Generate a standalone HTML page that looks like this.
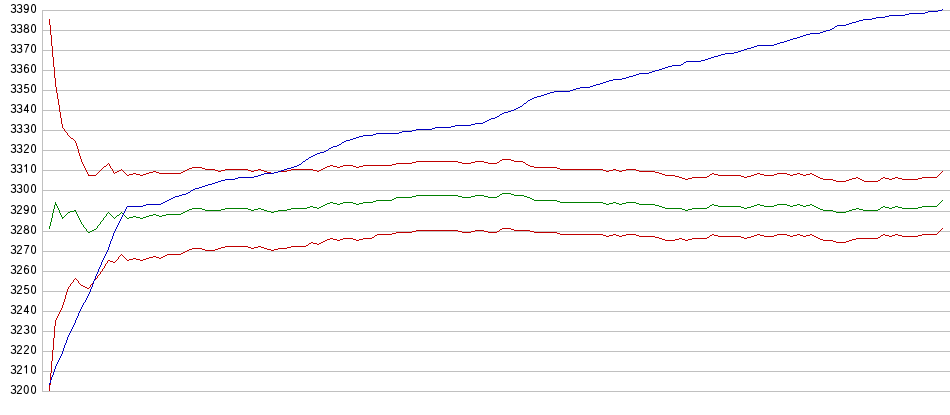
<!DOCTYPE html><html><head><meta charset="utf-8"><style>html,body{margin:0;padding:0;background:#fff;width:950px;height:415px;overflow:hidden}svg{display:block}</style></head><body><svg width="950" height="415" viewBox="0 0 950 415"><path d="M42 10h908v1h-908zM42 30h908v1h-908zM42 50h908v1h-908zM42 70h908v1h-908zM42 90h908v1h-908zM42 110h908v1h-908zM42 130h908v1h-908zM42 150h908v1h-908zM42 170h908v1h-908zM42 190h908v1h-908zM42 211h908v1h-908zM42 231h908v1h-908zM42 251h908v1h-908zM42 271h908v1h-908zM42 291h908v1h-908zM42 311h908v1h-908zM42 331h908v1h-908zM42 351h908v1h-908zM42 371h908v1h-908zM42 391h908v1h-908zM42 10h1v382h-1z" fill="#c0c0c0" shape-rendering="crispEdges"/><g fill="none" stroke="#000" stroke-width="1.05" stroke-linecap="butt" stroke-linejoin="round"><path transform="translate(11.1 4.5) scale(1 0.976)" d="M0.2 1.3C0.5 0.5 1.2 0 2.2 0C3.5 0 4.4 0.8 4.4 2.05C4.4 3.3 3.5 4.2 2.2 4.2L1.7 4.2M2.2 4.2C3.7 4.2 4.6 5.1 4.6 6.2C4.6 7.4 3.6 8.2 2.2 8.2C1.0 8.2 0.2 7.5 0 6.6"/><path transform="translate(17.2 4.5) scale(1 0.976)" d="M0.2 1.3C0.5 0.5 1.2 0 2.2 0C3.5 0 4.4 0.8 4.4 2.05C4.4 3.3 3.5 4.2 2.2 4.2L1.7 4.2M2.2 4.2C3.7 4.2 4.6 5.1 4.6 6.2C4.6 7.4 3.6 8.2 2.2 8.2C1.0 8.2 0.2 7.5 0 6.6"/><path transform="translate(24.2 4.5) scale(1 0.976)" d="M4.2 2.7C4.2 4.2 3.4 5.1 2.1 5.1C0.8 5.1 0 4.1 0 2.6C0 1.1 0.8 0 2.1 0C3.5 0 4.2 1.3 4.2 3.6C4.2 6.6 3.3 8.2 2 8.2C1.1 8.2 0.4 7.6 0.2 6.7"/><path transform="translate(31.5 4.5) scale(1 0.976)" d="M2.05 0C3.4 0 4.1 1.7 4.1 4.1C4.1 6.5 3.4 8.2 2.05 8.2C0.7 8.2 0 6.5 0 4.1C0 1.7 0.7 0 2.05 0Z"/><path transform="translate(11.1 24.5) scale(1 0.976)" d="M0.2 1.3C0.5 0.5 1.2 0 2.2 0C3.5 0 4.4 0.8 4.4 2.05C4.4 3.3 3.5 4.2 2.2 4.2L1.7 4.2M2.2 4.2C3.7 4.2 4.6 5.1 4.6 6.2C4.6 7.4 3.6 8.2 2.2 8.2C1.0 8.2 0.2 7.5 0 6.6"/><path transform="translate(17.2 24.5) scale(1 0.976)" d="M0.2 1.3C0.5 0.5 1.2 0 2.2 0C3.5 0 4.4 0.8 4.4 2.05C4.4 3.3 3.5 4.2 2.2 4.2L1.7 4.2M2.2 4.2C3.7 4.2 4.6 5.1 4.6 6.2C4.6 7.4 3.6 8.2 2.2 8.2C1.0 8.2 0.2 7.5 0 6.6"/><path transform="translate(24.2 24.5) scale(1 0.976)" d="M2.2 4.1C1.1 4.1 0.3 3.3 0.3 2.05C0.3 0.8 1.1 0 2.2 0C3.3 0 4.1 0.8 4.1 2.05C4.1 3.3 3.3 4.1 2.2 4.1C3.6 4.1 4.5 5 4.5 6.15C4.5 7.4 3.6 8.2 2.2 8.2C0.8 8.2 -0.1 7.4 -0.1 6.15C-0.1 5 0.8 4.1 2.2 4.1Z"/><path transform="translate(31.5 24.5) scale(1 0.976)" d="M2.05 0C3.4 0 4.1 1.7 4.1 4.1C4.1 6.5 3.4 8.2 2.05 8.2C0.7 8.2 0 6.5 0 4.1C0 1.7 0.7 0 2.05 0Z"/><path transform="translate(11.1 44.5) scale(1 0.976)" d="M0.2 1.3C0.5 0.5 1.2 0 2.2 0C3.5 0 4.4 0.8 4.4 2.05C4.4 3.3 3.5 4.2 2.2 4.2L1.7 4.2M2.2 4.2C3.7 4.2 4.6 5.1 4.6 6.2C4.6 7.4 3.6 8.2 2.2 8.2C1.0 8.2 0.2 7.5 0 6.6"/><path transform="translate(17.2 44.5) scale(1 0.976)" d="M0.2 1.3C0.5 0.5 1.2 0 2.2 0C3.5 0 4.4 0.8 4.4 2.05C4.4 3.3 3.5 4.2 2.2 4.2L1.7 4.2M2.2 4.2C3.7 4.2 4.6 5.1 4.6 6.2C4.6 7.4 3.6 8.2 2.2 8.2C1.0 8.2 0.2 7.5 0 6.6"/><path transform="translate(24.2 44.5) scale(1 0.976)" d="M0 0H4.6C3.4 1.8 1.9 5 1.4 8.4"/><path transform="translate(31.5 44.5) scale(1 0.976)" d="M2.05 0C3.4 0 4.1 1.7 4.1 4.1C4.1 6.5 3.4 8.2 2.05 8.2C0.7 8.2 0 6.5 0 4.1C0 1.7 0.7 0 2.05 0Z"/><path transform="translate(11.1 64.5) scale(1 0.976)" d="M0.2 1.3C0.5 0.5 1.2 0 2.2 0C3.5 0 4.4 0.8 4.4 2.05C4.4 3.3 3.5 4.2 2.2 4.2L1.7 4.2M2.2 4.2C3.7 4.2 4.6 5.1 4.6 6.2C4.6 7.4 3.6 8.2 2.2 8.2C1.0 8.2 0.2 7.5 0 6.6"/><path transform="translate(17.2 64.5) scale(1 0.976)" d="M0.2 1.3C0.5 0.5 1.2 0 2.2 0C3.5 0 4.4 0.8 4.4 2.05C4.4 3.3 3.5 4.2 2.2 4.2L1.7 4.2M2.2 4.2C3.7 4.2 4.6 5.1 4.6 6.2C4.6 7.4 3.6 8.2 2.2 8.2C1.0 8.2 0.2 7.5 0 6.6"/><path transform="translate(24.2 64.5) scale(1 0.976)" d="M0.2 5.5C0.3 4 1.1 3.1 2.3 3.1C3.6 3.1 4.4 4.1 4.4 5.6C4.4 7.1 3.6 8.2 2.3 8.2C0.9 8.2 0.2 7 0.2 4.6C0.2 1.6 1.1 0 2.4 0C3.3 0 4 0.6 4.2 1.5"/><path transform="translate(31.5 64.5) scale(1 0.976)" d="M2.05 0C3.4 0 4.1 1.7 4.1 4.1C4.1 6.5 3.4 8.2 2.05 8.2C0.7 8.2 0 6.5 0 4.1C0 1.7 0.7 0 2.05 0Z"/><path transform="translate(11.1 84.5) scale(1 0.976)" d="M0.2 1.3C0.5 0.5 1.2 0 2.2 0C3.5 0 4.4 0.8 4.4 2.05C4.4 3.3 3.5 4.2 2.2 4.2L1.7 4.2M2.2 4.2C3.7 4.2 4.6 5.1 4.6 6.2C4.6 7.4 3.6 8.2 2.2 8.2C1.0 8.2 0.2 7.5 0 6.6"/><path transform="translate(17.2 84.5) scale(1 0.976)" d="M0.2 1.3C0.5 0.5 1.2 0 2.2 0C3.5 0 4.4 0.8 4.4 2.05C4.4 3.3 3.5 4.2 2.2 4.2L1.7 4.2M2.2 4.2C3.7 4.2 4.6 5.1 4.6 6.2C4.6 7.4 3.6 8.2 2.2 8.2C1.0 8.2 0.2 7.5 0 6.6"/><path transform="translate(24.2 84.5) scale(1 0.976)" d="M4.3 0L0.9 0L0.4 4.2C0.9 3.5 1.5 3.1 2.3 3.1C3.7 3.1 4.5 4.2 4.5 5.6C4.5 7.1 3.6 8.2 2.2 8.2C1.1 8.2 0.3 7.6 0.1 6.7"/><path transform="translate(31.5 84.5) scale(1 0.976)" d="M2.05 0C3.4 0 4.1 1.7 4.1 4.1C4.1 6.5 3.4 8.2 2.05 8.2C0.7 8.2 0 6.5 0 4.1C0 1.7 0.7 0 2.05 0Z"/><path transform="translate(11.1 104.5) scale(1 0.976)" d="M0.2 1.3C0.5 0.5 1.2 0 2.2 0C3.5 0 4.4 0.8 4.4 2.05C4.4 3.3 3.5 4.2 2.2 4.2L1.7 4.2M2.2 4.2C3.7 4.2 4.6 5.1 4.6 6.2C4.6 7.4 3.6 8.2 2.2 8.2C1.0 8.2 0.2 7.5 0 6.6"/><path transform="translate(17.2 104.5) scale(1 0.976)" d="M0.2 1.3C0.5 0.5 1.2 0 2.2 0C3.5 0 4.4 0.8 4.4 2.05C4.4 3.3 3.5 4.2 2.2 4.2L1.7 4.2M2.2 4.2C3.7 4.2 4.6 5.1 4.6 6.2C4.6 7.4 3.6 8.2 2.2 8.2C1.0 8.2 0.2 7.5 0 6.6"/><path transform="translate(24.2 104.5) scale(1 0.976)" d="M3.3 8.4L3.3 0L0 6.1L4.7 6.1"/><path transform="translate(31.5 104.5) scale(1 0.976)" d="M2.05 0C3.4 0 4.1 1.7 4.1 4.1C4.1 6.5 3.4 8.2 2.05 8.2C0.7 8.2 0 6.5 0 4.1C0 1.7 0.7 0 2.05 0Z"/><path transform="translate(11.1 124.5) scale(1 0.976)" d="M0.2 1.3C0.5 0.5 1.2 0 2.2 0C3.5 0 4.4 0.8 4.4 2.05C4.4 3.3 3.5 4.2 2.2 4.2L1.7 4.2M2.2 4.2C3.7 4.2 4.6 5.1 4.6 6.2C4.6 7.4 3.6 8.2 2.2 8.2C1.0 8.2 0.2 7.5 0 6.6"/><path transform="translate(17.2 124.5) scale(1 0.976)" d="M0.2 1.3C0.5 0.5 1.2 0 2.2 0C3.5 0 4.4 0.8 4.4 2.05C4.4 3.3 3.5 4.2 2.2 4.2L1.7 4.2M2.2 4.2C3.7 4.2 4.6 5.1 4.6 6.2C4.6 7.4 3.6 8.2 2.2 8.2C1.0 8.2 0.2 7.5 0 6.6"/><path transform="translate(24.2 124.5) scale(1 0.976)" d="M0.2 1.3C0.5 0.5 1.2 0 2.2 0C3.5 0 4.4 0.8 4.4 2.05C4.4 3.3 3.5 4.2 2.2 4.2L1.7 4.2M2.2 4.2C3.7 4.2 4.6 5.1 4.6 6.2C4.6 7.4 3.6 8.2 2.2 8.2C1.0 8.2 0.2 7.5 0 6.6"/><path transform="translate(31.5 124.5) scale(1 0.976)" d="M2.05 0C3.4 0 4.1 1.7 4.1 4.1C4.1 6.5 3.4 8.2 2.05 8.2C0.7 8.2 0 6.5 0 4.1C0 1.7 0.7 0 2.05 0Z"/><path transform="translate(11.1 144.5) scale(1 0.976)" d="M0.2 1.3C0.5 0.5 1.2 0 2.2 0C3.5 0 4.4 0.8 4.4 2.05C4.4 3.3 3.5 4.2 2.2 4.2L1.7 4.2M2.2 4.2C3.7 4.2 4.6 5.1 4.6 6.2C4.6 7.4 3.6 8.2 2.2 8.2C1.0 8.2 0.2 7.5 0 6.6"/><path transform="translate(17.2 144.5) scale(1 0.976)" d="M0.2 1.3C0.5 0.5 1.2 0 2.2 0C3.5 0 4.4 0.8 4.4 2.05C4.4 3.3 3.5 4.2 2.2 4.2L1.7 4.2M2.2 4.2C3.7 4.2 4.6 5.1 4.6 6.2C4.6 7.4 3.6 8.2 2.2 8.2C1.0 8.2 0.2 7.5 0 6.6"/><path transform="translate(24.2 144.5) scale(1 0.976)" d="M0.2 1.9C0.3 0.7 1.1 0 2.2 0C3.4 0 4.3 0.8 4.3 2C4.3 3.1 3.6 3.8 2.5 4.7C1.2 5.8 0.3 6.9 0.1 8.2L4.6 8.2"/><path transform="translate(31.5 144.5) scale(1 0.976)" d="M2.05 0C3.4 0 4.1 1.7 4.1 4.1C4.1 6.5 3.4 8.2 2.05 8.2C0.7 8.2 0 6.5 0 4.1C0 1.7 0.7 0 2.05 0Z"/><path transform="translate(11.1 164.5) scale(1 0.976)" d="M0.2 1.3C0.5 0.5 1.2 0 2.2 0C3.5 0 4.4 0.8 4.4 2.05C4.4 3.3 3.5 4.2 2.2 4.2L1.7 4.2M2.2 4.2C3.7 4.2 4.6 5.1 4.6 6.2C4.6 7.4 3.6 8.2 2.2 8.2C1.0 8.2 0.2 7.5 0 6.6"/><path transform="translate(17.2 164.5) scale(1 0.976)" d="M0.2 1.3C0.5 0.5 1.2 0 2.2 0C3.5 0 4.4 0.8 4.4 2.05C4.4 3.3 3.5 4.2 2.2 4.2L1.7 4.2M2.2 4.2C3.7 4.2 4.6 5.1 4.6 6.2C4.6 7.4 3.6 8.2 2.2 8.2C1.0 8.2 0.2 7.5 0 6.6"/><path transform="translate(24.2 164.5) scale(1 0.976)" d="M0.2 2.0C1.0 1.6 1.8 0.9 2.3 0L2.3 8.3"/><path transform="translate(31.5 164.5) scale(1 0.976)" d="M2.05 0C3.4 0 4.1 1.7 4.1 4.1C4.1 6.5 3.4 8.2 2.05 8.2C0.7 8.2 0 6.5 0 4.1C0 1.7 0.7 0 2.05 0Z"/><path transform="translate(11.1 184.5) scale(1 0.976)" d="M0.2 1.3C0.5 0.5 1.2 0 2.2 0C3.5 0 4.4 0.8 4.4 2.05C4.4 3.3 3.5 4.2 2.2 4.2L1.7 4.2M2.2 4.2C3.7 4.2 4.6 5.1 4.6 6.2C4.6 7.4 3.6 8.2 2.2 8.2C1.0 8.2 0.2 7.5 0 6.6"/><path transform="translate(17.2 184.5) scale(1 0.976)" d="M0.2 1.3C0.5 0.5 1.2 0 2.2 0C3.5 0 4.4 0.8 4.4 2.05C4.4 3.3 3.5 4.2 2.2 4.2L1.7 4.2M2.2 4.2C3.7 4.2 4.6 5.1 4.6 6.2C4.6 7.4 3.6 8.2 2.2 8.2C1.0 8.2 0.2 7.5 0 6.6"/><path transform="translate(24.2 184.5) scale(1 0.976)" d="M2.05 0C3.4 0 4.1 1.7 4.1 4.1C4.1 6.5 3.4 8.2 2.05 8.2C0.7 8.2 0 6.5 0 4.1C0 1.7 0.7 0 2.05 0Z"/><path transform="translate(31.5 184.5) scale(1 0.976)" d="M2.05 0C3.4 0 4.1 1.7 4.1 4.1C4.1 6.5 3.4 8.2 2.05 8.2C0.7 8.2 0 6.5 0 4.1C0 1.7 0.7 0 2.05 0Z"/><path transform="translate(11.1 205.5) scale(1 0.976)" d="M0.2 1.3C0.5 0.5 1.2 0 2.2 0C3.5 0 4.4 0.8 4.4 2.05C4.4 3.3 3.5 4.2 2.2 4.2L1.7 4.2M2.2 4.2C3.7 4.2 4.6 5.1 4.6 6.2C4.6 7.4 3.6 8.2 2.2 8.2C1.0 8.2 0.2 7.5 0 6.6"/><path transform="translate(17.2 205.5) scale(1 0.976)" d="M0.2 1.9C0.3 0.7 1.1 0 2.2 0C3.4 0 4.3 0.8 4.3 2C4.3 3.1 3.6 3.8 2.5 4.7C1.2 5.8 0.3 6.9 0.1 8.2L4.6 8.2"/><path transform="translate(24.2 205.5) scale(1 0.976)" d="M4.2 2.7C4.2 4.2 3.4 5.1 2.1 5.1C0.8 5.1 0 4.1 0 2.6C0 1.1 0.8 0 2.1 0C3.5 0 4.2 1.3 4.2 3.6C4.2 6.6 3.3 8.2 2 8.2C1.1 8.2 0.4 7.6 0.2 6.7"/><path transform="translate(31.5 205.5) scale(1 0.976)" d="M2.05 0C3.4 0 4.1 1.7 4.1 4.1C4.1 6.5 3.4 8.2 2.05 8.2C0.7 8.2 0 6.5 0 4.1C0 1.7 0.7 0 2.05 0Z"/><path transform="translate(11.1 225.5) scale(1 0.976)" d="M0.2 1.3C0.5 0.5 1.2 0 2.2 0C3.5 0 4.4 0.8 4.4 2.05C4.4 3.3 3.5 4.2 2.2 4.2L1.7 4.2M2.2 4.2C3.7 4.2 4.6 5.1 4.6 6.2C4.6 7.4 3.6 8.2 2.2 8.2C1.0 8.2 0.2 7.5 0 6.6"/><path transform="translate(17.2 225.5) scale(1 0.976)" d="M0.2 1.9C0.3 0.7 1.1 0 2.2 0C3.4 0 4.3 0.8 4.3 2C4.3 3.1 3.6 3.8 2.5 4.7C1.2 5.8 0.3 6.9 0.1 8.2L4.6 8.2"/><path transform="translate(24.2 225.5) scale(1 0.976)" d="M2.2 4.1C1.1 4.1 0.3 3.3 0.3 2.05C0.3 0.8 1.1 0 2.2 0C3.3 0 4.1 0.8 4.1 2.05C4.1 3.3 3.3 4.1 2.2 4.1C3.6 4.1 4.5 5 4.5 6.15C4.5 7.4 3.6 8.2 2.2 8.2C0.8 8.2 -0.1 7.4 -0.1 6.15C-0.1 5 0.8 4.1 2.2 4.1Z"/><path transform="translate(31.5 225.5) scale(1 0.976)" d="M2.05 0C3.4 0 4.1 1.7 4.1 4.1C4.1 6.5 3.4 8.2 2.05 8.2C0.7 8.2 0 6.5 0 4.1C0 1.7 0.7 0 2.05 0Z"/><path transform="translate(11.1 245.5) scale(1 0.976)" d="M0.2 1.3C0.5 0.5 1.2 0 2.2 0C3.5 0 4.4 0.8 4.4 2.05C4.4 3.3 3.5 4.2 2.2 4.2L1.7 4.2M2.2 4.2C3.7 4.2 4.6 5.1 4.6 6.2C4.6 7.4 3.6 8.2 2.2 8.2C1.0 8.2 0.2 7.5 0 6.6"/><path transform="translate(17.2 245.5) scale(1 0.976)" d="M0.2 1.9C0.3 0.7 1.1 0 2.2 0C3.4 0 4.3 0.8 4.3 2C4.3 3.1 3.6 3.8 2.5 4.7C1.2 5.8 0.3 6.9 0.1 8.2L4.6 8.2"/><path transform="translate(24.2 245.5) scale(1 0.976)" d="M0 0H4.6C3.4 1.8 1.9 5 1.4 8.4"/><path transform="translate(31.5 245.5) scale(1 0.976)" d="M2.05 0C3.4 0 4.1 1.7 4.1 4.1C4.1 6.5 3.4 8.2 2.05 8.2C0.7 8.2 0 6.5 0 4.1C0 1.7 0.7 0 2.05 0Z"/><path transform="translate(11.1 265.5) scale(1 0.976)" d="M0.2 1.3C0.5 0.5 1.2 0 2.2 0C3.5 0 4.4 0.8 4.4 2.05C4.4 3.3 3.5 4.2 2.2 4.2L1.7 4.2M2.2 4.2C3.7 4.2 4.6 5.1 4.6 6.2C4.6 7.4 3.6 8.2 2.2 8.2C1.0 8.2 0.2 7.5 0 6.6"/><path transform="translate(17.2 265.5) scale(1 0.976)" d="M0.2 1.9C0.3 0.7 1.1 0 2.2 0C3.4 0 4.3 0.8 4.3 2C4.3 3.1 3.6 3.8 2.5 4.7C1.2 5.8 0.3 6.9 0.1 8.2L4.6 8.2"/><path transform="translate(24.2 265.5) scale(1 0.976)" d="M0.2 5.5C0.3 4 1.1 3.1 2.3 3.1C3.6 3.1 4.4 4.1 4.4 5.6C4.4 7.1 3.6 8.2 2.3 8.2C0.9 8.2 0.2 7 0.2 4.6C0.2 1.6 1.1 0 2.4 0C3.3 0 4 0.6 4.2 1.5"/><path transform="translate(31.5 265.5) scale(1 0.976)" d="M2.05 0C3.4 0 4.1 1.7 4.1 4.1C4.1 6.5 3.4 8.2 2.05 8.2C0.7 8.2 0 6.5 0 4.1C0 1.7 0.7 0 2.05 0Z"/><path transform="translate(11.1 285.5) scale(1 0.976)" d="M0.2 1.3C0.5 0.5 1.2 0 2.2 0C3.5 0 4.4 0.8 4.4 2.05C4.4 3.3 3.5 4.2 2.2 4.2L1.7 4.2M2.2 4.2C3.7 4.2 4.6 5.1 4.6 6.2C4.6 7.4 3.6 8.2 2.2 8.2C1.0 8.2 0.2 7.5 0 6.6"/><path transform="translate(17.2 285.5) scale(1 0.976)" d="M0.2 1.9C0.3 0.7 1.1 0 2.2 0C3.4 0 4.3 0.8 4.3 2C4.3 3.1 3.6 3.8 2.5 4.7C1.2 5.8 0.3 6.9 0.1 8.2L4.6 8.2"/><path transform="translate(24.2 285.5) scale(1 0.976)" d="M4.3 0L0.9 0L0.4 4.2C0.9 3.5 1.5 3.1 2.3 3.1C3.7 3.1 4.5 4.2 4.5 5.6C4.5 7.1 3.6 8.2 2.2 8.2C1.1 8.2 0.3 7.6 0.1 6.7"/><path transform="translate(31.5 285.5) scale(1 0.976)" d="M2.05 0C3.4 0 4.1 1.7 4.1 4.1C4.1 6.5 3.4 8.2 2.05 8.2C0.7 8.2 0 6.5 0 4.1C0 1.7 0.7 0 2.05 0Z"/><path transform="translate(11.1 305.5) scale(1 0.976)" d="M0.2 1.3C0.5 0.5 1.2 0 2.2 0C3.5 0 4.4 0.8 4.4 2.05C4.4 3.3 3.5 4.2 2.2 4.2L1.7 4.2M2.2 4.2C3.7 4.2 4.6 5.1 4.6 6.2C4.6 7.4 3.6 8.2 2.2 8.2C1.0 8.2 0.2 7.5 0 6.6"/><path transform="translate(17.2 305.5) scale(1 0.976)" d="M0.2 1.9C0.3 0.7 1.1 0 2.2 0C3.4 0 4.3 0.8 4.3 2C4.3 3.1 3.6 3.8 2.5 4.7C1.2 5.8 0.3 6.9 0.1 8.2L4.6 8.2"/><path transform="translate(24.2 305.5) scale(1 0.976)" d="M3.3 8.4L3.3 0L0 6.1L4.7 6.1"/><path transform="translate(31.5 305.5) scale(1 0.976)" d="M2.05 0C3.4 0 4.1 1.7 4.1 4.1C4.1 6.5 3.4 8.2 2.05 8.2C0.7 8.2 0 6.5 0 4.1C0 1.7 0.7 0 2.05 0Z"/><path transform="translate(11.1 325.5) scale(1 0.976)" d="M0.2 1.3C0.5 0.5 1.2 0 2.2 0C3.5 0 4.4 0.8 4.4 2.05C4.4 3.3 3.5 4.2 2.2 4.2L1.7 4.2M2.2 4.2C3.7 4.2 4.6 5.1 4.6 6.2C4.6 7.4 3.6 8.2 2.2 8.2C1.0 8.2 0.2 7.5 0 6.6"/><path transform="translate(17.2 325.5) scale(1 0.976)" d="M0.2 1.9C0.3 0.7 1.1 0 2.2 0C3.4 0 4.3 0.8 4.3 2C4.3 3.1 3.6 3.8 2.5 4.7C1.2 5.8 0.3 6.9 0.1 8.2L4.6 8.2"/><path transform="translate(24.2 325.5) scale(1 0.976)" d="M0.2 1.3C0.5 0.5 1.2 0 2.2 0C3.5 0 4.4 0.8 4.4 2.05C4.4 3.3 3.5 4.2 2.2 4.2L1.7 4.2M2.2 4.2C3.7 4.2 4.6 5.1 4.6 6.2C4.6 7.4 3.6 8.2 2.2 8.2C1.0 8.2 0.2 7.5 0 6.6"/><path transform="translate(31.5 325.5) scale(1 0.976)" d="M2.05 0C3.4 0 4.1 1.7 4.1 4.1C4.1 6.5 3.4 8.2 2.05 8.2C0.7 8.2 0 6.5 0 4.1C0 1.7 0.7 0 2.05 0Z"/><path transform="translate(11.1 345.5) scale(1 0.976)" d="M0.2 1.3C0.5 0.5 1.2 0 2.2 0C3.5 0 4.4 0.8 4.4 2.05C4.4 3.3 3.5 4.2 2.2 4.2L1.7 4.2M2.2 4.2C3.7 4.2 4.6 5.1 4.6 6.2C4.6 7.4 3.6 8.2 2.2 8.2C1.0 8.2 0.2 7.5 0 6.6"/><path transform="translate(17.2 345.5) scale(1 0.976)" d="M0.2 1.9C0.3 0.7 1.1 0 2.2 0C3.4 0 4.3 0.8 4.3 2C4.3 3.1 3.6 3.8 2.5 4.7C1.2 5.8 0.3 6.9 0.1 8.2L4.6 8.2"/><path transform="translate(24.2 345.5) scale(1 0.976)" d="M0.2 1.9C0.3 0.7 1.1 0 2.2 0C3.4 0 4.3 0.8 4.3 2C4.3 3.1 3.6 3.8 2.5 4.7C1.2 5.8 0.3 6.9 0.1 8.2L4.6 8.2"/><path transform="translate(31.5 345.5) scale(1 0.976)" d="M2.05 0C3.4 0 4.1 1.7 4.1 4.1C4.1 6.5 3.4 8.2 2.05 8.2C0.7 8.2 0 6.5 0 4.1C0 1.7 0.7 0 2.05 0Z"/><path transform="translate(11.1 365.5) scale(1 0.976)" d="M0.2 1.3C0.5 0.5 1.2 0 2.2 0C3.5 0 4.4 0.8 4.4 2.05C4.4 3.3 3.5 4.2 2.2 4.2L1.7 4.2M2.2 4.2C3.7 4.2 4.6 5.1 4.6 6.2C4.6 7.4 3.6 8.2 2.2 8.2C1.0 8.2 0.2 7.5 0 6.6"/><path transform="translate(17.2 365.5) scale(1 0.976)" d="M0.2 1.9C0.3 0.7 1.1 0 2.2 0C3.4 0 4.3 0.8 4.3 2C4.3 3.1 3.6 3.8 2.5 4.7C1.2 5.8 0.3 6.9 0.1 8.2L4.6 8.2"/><path transform="translate(24.2 365.5) scale(1 0.976)" d="M0.2 2.0C1.0 1.6 1.8 0.9 2.3 0L2.3 8.3"/><path transform="translate(31.5 365.5) scale(1 0.976)" d="M2.05 0C3.4 0 4.1 1.7 4.1 4.1C4.1 6.5 3.4 8.2 2.05 8.2C0.7 8.2 0 6.5 0 4.1C0 1.7 0.7 0 2.05 0Z"/><path transform="translate(11.1 385.5) scale(1 0.976)" d="M0.2 1.3C0.5 0.5 1.2 0 2.2 0C3.5 0 4.4 0.8 4.4 2.05C4.4 3.3 3.5 4.2 2.2 4.2L1.7 4.2M2.2 4.2C3.7 4.2 4.6 5.1 4.6 6.2C4.6 7.4 3.6 8.2 2.2 8.2C1.0 8.2 0.2 7.5 0 6.6"/><path transform="translate(17.2 385.5) scale(1 0.976)" d="M0.2 1.9C0.3 0.7 1.1 0 2.2 0C3.4 0 4.3 0.8 4.3 2C4.3 3.1 3.6 3.8 2.5 4.7C1.2 5.8 0.3 6.9 0.1 8.2L4.6 8.2"/><path transform="translate(24.2 385.5) scale(1 0.976)" d="M2.05 0C3.4 0 4.1 1.7 4.1 4.1C4.1 6.5 3.4 8.2 2.05 8.2C0.7 8.2 0 6.5 0 4.1C0 1.7 0.7 0 2.05 0Z"/><path transform="translate(31.5 385.5) scale(1 0.976)" d="M2.05 0C3.4 0 4.1 1.7 4.1 4.1C4.1 6.5 3.4 8.2 2.05 8.2C0.7 8.2 0 6.5 0 4.1C0 1.7 0.7 0 2.05 0Z"/></g><path d="M502 228h9v1h-9zM942 228h1v1h-1zM500 229h2v1h-2zM511 229h3v1h-3zM941 229h1v1h-1zM416 230h42v1h-42zM475 230h9v1h-9zM499 230h1v1h-1zM514 230h16v1h-16zM940 230h1v1h-1zM412 231h4v1h-4zM458 231h4v1h-4zM471 231h4v1h-4zM484 231h4v1h-4zM497 231h2v1h-2zM530 231h4v1h-4zM939 231h1v1h-1zM396 232h16v1h-16zM462 232h9v1h-9zM488 232h9v1h-9zM534 232h23v1h-23zM938 232h1v1h-1zM392 233h4v1h-4zM557 233h3v1h-3zM937 233h1v1h-1zM377 234h15v1h-15zM560 234h43v1h-43zM613 234h3v1h-3zM626 234h10v1h-10zM712 234h2v1h-2zM757 234h3v1h-3zM777 234h10v1h-10zM797 234h3v1h-3zM810 234h2v1h-2zM883 234h2v1h-2zM895 234h3v1h-3zM922 234h15v1h-15zM375 235h2v1h-2zM603 235h3v1h-3zM609 235h4v1h-4zM616 235h3v1h-3zM622 235h4v1h-4zM636 235h3v1h-3zM710 235h2v1h-2zM714 235h4v1h-4zM754 235h3v1h-3zM760 235h4v1h-4zM774 235h3v1h-3zM787 235h3v1h-3zM793 235h4v1h-4zM800 235h3v1h-3zM806 235h4v1h-4zM812 235h2v1h-2zM881 235h2v1h-2zM885 235h4v1h-4zM892 235h3v1h-3zM898 235h4v1h-4zM918 235h4v1h-4zM374 236h1v1h-1zM606 236h3v1h-3zM619 236h3v1h-3zM639 236h16v1h-16zM709 236h1v1h-1zM718 236h23v1h-23zM751 236h3v1h-3zM764 236h10v1h-10zM790 236h3v1h-3zM803 236h3v1h-3zM814 236h2v1h-2zM880 236h1v1h-1zM889 236h3v1h-3zM902 236h16v1h-16zM372 237h2v1h-2zM655 237h4v1h-4zM707 237h2v1h-2zM741 237h3v1h-3zM747 237h4v1h-4zM816 237h2v1h-2zM878 237h2v1h-2zM330 238h3v1h-3zM343 238h10v1h-10zM363 238h9v1h-9zM659 238h3v1h-3zM679 238h3v1h-3zM692 238h15v1h-15zM744 238h3v1h-3zM818 238h2v1h-2zM856 238h22v1h-22zM327 239h3v1h-3zM333 239h4v1h-4zM340 239h3v1h-3zM353 239h3v1h-3zM359 239h4v1h-4zM662 239h3v1h-3zM675 239h4v1h-4zM682 239h3v1h-3zM688 239h4v1h-4zM820 239h3v1h-3zM852 239h4v1h-4zM325 240h2v1h-2zM337 240h3v1h-3zM356 240h3v1h-3zM665 240h10v1h-10zM685 240h3v1h-3zM823 240h10v1h-10zM849 240h3v1h-3zM323 241h2v1h-2zM833 241h3v1h-3zM846 241h3v1h-3zM311 242h2v1h-2zM321 242h2v1h-2zM836 242h10v1h-10zM309 243h2v1h-2zM313 243h4v1h-4zM319 243h2v1h-2zM308 244h1v1h-1zM317 244h2v1h-2zM306 245h2v1h-2zM225 246h23v1h-23zM258 246h3v1h-3zM291 246h15v1h-15zM221 247h4v1h-4zM248 247h3v1h-3zM254 247h4v1h-4zM261 247h3v1h-3zM287 247h4v1h-4zM192 248h10v1h-10zM218 248h3v1h-3zM251 248h3v1h-3zM264 248h3v1h-3zM278 248h9v1h-9zM189 249h3v1h-3zM202 249h3v1h-3zM215 249h3v1h-3zM267 249h4v1h-4zM274 249h4v1h-4zM187 250h2v1h-2zM205 250h10v1h-10zM271 250h3v1h-3zM185 251h2v1h-2zM183 252h2v1h-2zM181 253h2v1h-2zM121 254h1v1h-1zM167 254h14v1h-14zM120 255h1v1h-1zM122 255h1v1h-1zM165 255h2v1h-2zM119 256h1v1h-1zM123 256h1v1h-1zM153 256h3v1h-3zM163 256h2v1h-2zM118 257h1v1h-1zM124 257h1v1h-1zM149 257h4v1h-4zM156 257h3v1h-3zM161 257h2v1h-2zM118 258h1v1h-1zM125 258h1v1h-1zM133 258h3v1h-3zM146 258h3v1h-3zM159 258h2v1h-2zM117 259h1v1h-1zM126 259h1v1h-1zM129 259h4v1h-4zM136 259h4v1h-4zM143 259h3v1h-3zM108 260h2v1h-2zM116 260h1v1h-1zM127 260h2v1h-2zM140 260h3v1h-3zM107 261h1v1h-1zM110 261h3v1h-3zM115 261h1v1h-1zM107 262h1v1h-1zM113 262h2v1h-2zM106 263h1v1h-1zM105 264h1v1h-1zM105 265h1v1h-1zM104 266h1v1h-1zM104 267h1v1h-1zM103 268h1v1h-1zM102 269h1v1h-1zM102 270h1v1h-1zM101 271h1v1h-1zM100 272h1v1h-1zM100 273h1v1h-1zM99 274h1v1h-1zM98 275h1v1h-1zM97 276h1v1h-1zM97 277h1v1h-1zM75 278h1v1h-1zM96 278h1v1h-1zM74 279h1v1h-1zM76 279h1v1h-1zM95 279h1v1h-1zM73 280h1v1h-1zM77 280h1v1h-1zM94 280h1v1h-1zM73 281h1v1h-1zM78 281h1v1h-1zM93 281h1v1h-1zM72 282h1v1h-1zM78 282h1v1h-1zM93 282h1v1h-1zM71 283h1v1h-1zM79 283h1v1h-1zM92 283h1v1h-1zM70 284h1v1h-1zM80 284h1v1h-1zM91 284h1v1h-1zM70 285h1v1h-1zM81 285h2v1h-2zM90 285h1v1h-1zM69 286h1v1h-1zM83 286h2v1h-2zM90 286h1v1h-1zM68 287h1v1h-1zM85 287h2v1h-2zM89 287h1v1h-1zM68 288h1v1h-1zM87 288h2v1h-2zM67 289h1v1h-1zM67 290h1v1h-1zM67 291h1v1h-1zM66 292h1v1h-1zM66 293h1v1h-1zM66 294h1v1h-1zM65 295h1v1h-1zM65 296h1v1h-1zM65 297h1v1h-1zM65 298h1v1h-1zM64 299h1v1h-1zM64 300h1v1h-1zM64 301h1v1h-1zM63 302h1v1h-1zM63 303h1v1h-1zM63 304h1v1h-1zM62 305h1v1h-1zM62 306h1v1h-1zM62 307h1v1h-1zM61 308h1v1h-1zM61 309h1v1h-1zM60 310h1v1h-1zM60 311h1v1h-1zM59 312h1v1h-1zM59 313h1v1h-1zM58 314h1v1h-1zM58 315h1v1h-1zM57 316h1v1h-1zM57 317h1v1h-1zM56 318h1v1h-1zM56 319h1v1h-1zM55 320h1v1h-1zM55 321h1v1h-1zM55 322h1v1h-1zM55 323h1v1h-1zM55 324h1v1h-1zM55 325h1v1h-1zM54 326h1v1h-1zM54 327h1v1h-1zM54 328h1v1h-1zM54 329h1v1h-1zM54 330h1v1h-1zM54 331h1v1h-1zM54 332h1v1h-1zM54 333h1v1h-1zM54 334h1v1h-1zM54 335h1v1h-1zM54 336h1v1h-1zM54 337h1v1h-1zM53 338h1v1h-1zM53 339h1v1h-1zM53 340h1v1h-1zM53 341h1v1h-1zM53 342h1v1h-1zM53 343h1v1h-1zM53 344h1v1h-1zM53 345h1v1h-1zM53 346h1v1h-1zM53 347h1v1h-1zM53 348h1v1h-1zM53 349h1v1h-1zM52 350h1v1h-1zM52 351h1v1h-1zM52 352h1v1h-1zM52 353h1v1h-1zM52 354h1v1h-1zM52 355h1v1h-1zM52 356h1v1h-1zM52 357h1v1h-1zM52 358h1v1h-1zM52 359h1v1h-1zM52 360h1v1h-1zM51 361h1v1h-1zM51 362h1v1h-1zM51 363h1v1h-1zM51 364h1v1h-1zM51 365h1v1h-1zM51 366h1v1h-1zM51 367h1v1h-1zM51 368h1v1h-1zM51 369h1v1h-1zM51 370h1v1h-1zM51 371h1v1h-1zM51 372h1v1h-1zM50 373h1v1h-1zM50 374h1v1h-1zM50 375h1v1h-1zM50 376h1v1h-1zM50 377h1v1h-1zM50 378h1v1h-1zM50 379h1v1h-1zM50 380h1v1h-1zM50 381h1v1h-1zM50 382h1v1h-1zM50 383h1v1h-1zM50 384h1v1h-1zM49 385h1v1h-1zM49 386h1v1h-1zM49 387h1v1h-1zM49 388h1v1h-1zM49 389h1v1h-1zM49 390h1v1h-1z" fill="#c00000" shape-rendering="crispEdges"/><path d="M502 193h9v1h-9zM500 194h2v1h-2zM511 194h3v1h-3zM416 195h42v1h-42zM475 195h9v1h-9zM499 195h1v1h-1zM514 195h10v1h-10zM412 196h4v1h-4zM458 196h4v1h-4zM471 196h4v1h-4zM484 196h4v1h-4zM497 196h2v1h-2zM524 196h3v1h-3zM396 197h16v1h-16zM462 197h9v1h-9zM488 197h9v1h-9zM527 197h3v1h-3zM394 198h2v1h-2zM530 198h2v1h-2zM392 199h2v1h-2zM532 199h2v1h-2zM376 200h16v1h-16zM534 200h23v1h-23zM942 200h1v1h-1zM373 201h3v1h-3zM557 201h3v1h-3zM941 201h1v1h-1zM55 202h1v1h-1zM330 202h3v1h-3zM343 202h10v1h-10zM363 202h10v1h-10zM560 202h43v1h-43zM613 202h3v1h-3zM626 202h10v1h-10zM940 202h1v1h-1zM55 203h1v1h-1zM327 203h3v1h-3zM333 203h4v1h-4zM340 203h3v1h-3zM353 203h3v1h-3zM359 203h4v1h-4zM603 203h3v1h-3zM609 203h4v1h-4zM616 203h3v1h-3zM622 203h4v1h-4zM636 203h3v1h-3zM939 203h1v1h-1zM55 204h2v1h-2zM325 204h2v1h-2zM337 204h3v1h-3zM356 204h3v1h-3zM606 204h3v1h-3zM619 204h3v1h-3zM639 204h16v1h-16zM712 204h2v1h-2zM757 204h3v1h-3zM777 204h10v1h-10zM797 204h3v1h-3zM810 204h2v1h-2zM938 204h1v1h-1zM54 205h1v1h-1zM56 205h1v1h-1zM323 205h2v1h-2zM655 205h4v1h-4zM710 205h2v1h-2zM714 205h4v1h-4zM754 205h3v1h-3zM760 205h4v1h-4zM774 205h3v1h-3zM787 205h3v1h-3zM793 205h4v1h-4zM800 205h3v1h-3zM806 205h4v1h-4zM812 205h2v1h-2zM937 205h1v1h-1zM54 206h1v1h-1zM57 206h1v1h-1zM310 206h3v1h-3zM321 206h2v1h-2zM659 206h3v1h-3zM709 206h1v1h-1zM718 206h23v1h-23zM751 206h3v1h-3zM764 206h10v1h-10zM790 206h3v1h-3zM803 206h3v1h-3zM814 206h2v1h-2zM883 206h2v1h-2zM895 206h3v1h-3zM922 206h15v1h-15zM54 207h1v1h-1zM57 207h1v1h-1zM307 207h3v1h-3zM313 207h4v1h-4zM319 207h2v1h-2zM662 207h3v1h-3zM707 207h2v1h-2zM741 207h3v1h-3zM747 207h4v1h-4zM816 207h2v1h-2zM881 207h2v1h-2zM885 207h4v1h-4zM892 207h3v1h-3zM898 207h4v1h-4zM918 207h4v1h-4zM54 208h1v1h-1zM58 208h1v1h-1zM192 208h10v1h-10zM225 208h23v1h-23zM258 208h3v1h-3zM291 208h16v1h-16zM317 208h2v1h-2zM665 208h17v1h-17zM692 208h15v1h-15zM744 208h3v1h-3zM818 208h2v1h-2zM856 208h3v1h-3zM880 208h1v1h-1zM889 208h3v1h-3zM902 208h16v1h-16zM53 209h1v1h-1zM58 209h1v1h-1zM189 209h3v1h-3zM202 209h3v1h-3zM221 209h4v1h-4zM248 209h3v1h-3zM254 209h4v1h-4zM261 209h3v1h-3zM287 209h4v1h-4zM682 209h3v1h-3zM688 209h4v1h-4zM820 209h3v1h-3zM852 209h4v1h-4zM859 209h4v1h-4zM878 209h2v1h-2zM53 210h1v1h-1zM59 210h1v1h-1zM74 210h2v1h-2zM187 210h2v1h-2zM205 210h16v1h-16zM251 210h3v1h-3zM264 210h3v1h-3zM278 210h9v1h-9zM685 210h3v1h-3zM823 210h10v1h-10zM849 210h3v1h-3zM863 210h15v1h-15zM53 211h1v1h-1zM59 211h1v1h-1zM70 211h4v1h-4zM75 211h1v1h-1zM185 211h2v1h-2zM267 211h4v1h-4zM274 211h4v1h-4zM833 211h3v1h-3zM846 211h3v1h-3zM53 212h1v1h-1zM59 212h1v1h-1zM68 212h2v1h-2zM76 212h1v1h-1zM108 212h1v1h-1zM121 212h1v1h-1zM183 212h2v1h-2zM271 212h3v1h-3zM836 212h10v1h-10zM52 213h1v1h-1zM60 213h1v1h-1zM67 213h1v1h-1zM76 213h1v1h-1zM107 213h1v1h-1zM109 213h1v1h-1zM120 213h1v1h-1zM122 213h1v1h-1zM181 213h2v1h-2zM52 214h1v1h-1zM60 214h1v1h-1zM66 214h1v1h-1zM77 214h1v1h-1zM106 214h1v1h-1zM110 214h1v1h-1zM119 214h1v1h-1zM123 214h1v1h-1zM153 214h3v1h-3zM166 214h15v1h-15zM52 215h1v1h-1zM61 215h1v1h-1zM65 215h1v1h-1zM77 215h1v1h-1zM106 215h1v1h-1zM111 215h1v1h-1zM117 215h2v1h-2zM124 215h1v1h-1zM149 215h4v1h-4zM156 215h3v1h-3zM162 215h4v1h-4zM52 216h1v1h-1zM61 216h1v1h-1zM64 216h1v1h-1zM78 216h1v1h-1zM105 216h1v1h-1zM112 216h1v1h-1zM116 216h1v1h-1zM125 216h1v1h-1zM133 216h3v1h-3zM146 216h3v1h-3zM159 216h3v1h-3zM52 217h1v1h-1zM62 217h2v1h-2zM78 217h1v1h-1zM104 217h1v1h-1zM113 217h1v1h-1zM115 217h1v1h-1zM126 217h1v1h-1zM129 217h4v1h-4zM136 217h4v1h-4zM143 217h3v1h-3zM51 218h1v1h-1zM62 218h1v1h-1zM79 218h1v1h-1zM103 218h1v1h-1zM114 218h1v1h-1zM127 218h2v1h-2zM140 218h3v1h-3zM51 219h1v1h-1zM79 219h1v1h-1zM103 219h1v1h-1zM51 220h1v1h-1zM80 220h1v1h-1zM102 220h1v1h-1zM51 221h1v1h-1zM80 221h1v1h-1zM101 221h1v1h-1zM50 222h1v1h-1zM81 222h1v1h-1zM100 222h1v1h-1zM50 223h1v1h-1zM81 223h1v1h-1zM100 223h1v1h-1zM50 224h1v1h-1zM82 224h1v1h-1zM99 224h1v1h-1zM50 225h1v1h-1zM83 225h1v1h-1zM98 225h1v1h-1zM49 226h1v1h-1zM83 226h1v1h-1zM97 226h1v1h-1zM49 227h1v1h-1zM84 227h1v1h-1zM97 227h1v1h-1zM49 228h1v1h-1zM85 228h1v1h-1zM96 228h1v1h-1zM86 229h1v1h-1zM94 229h2v1h-2zM86 230h1v1h-1zM92 230h2v1h-2zM87 231h1v1h-1zM90 231h2v1h-2zM88 232h2v1h-2z" fill="#008000" shape-rendering="crispEdges"/><path d="M49 19h1v1h-1zM49 20h1v1h-1zM49 21h1v1h-1zM49 22h1v1h-1zM49 23h1v1h-1zM49 24h1v1h-1zM50 25h1v1h-1zM50 26h1v1h-1zM50 27h1v1h-1zM50 28h1v1h-1zM50 29h1v1h-1zM50 30h1v1h-1zM50 31h1v1h-1zM50 32h1v1h-1zM50 33h1v1h-1zM50 34h1v1h-1zM51 35h1v1h-1zM51 36h1v1h-1zM51 37h1v1h-1zM51 38h1v1h-1zM51 39h1v1h-1zM51 40h1v1h-1zM51 41h1v1h-1zM51 42h1v1h-1zM51 43h1v1h-1zM51 44h1v1h-1zM51 45h1v1h-1zM52 46h1v1h-1zM52 47h1v1h-1zM52 48h1v1h-1zM52 49h1v1h-1zM52 50h1v1h-1zM52 51h1v1h-1zM52 52h1v1h-1zM52 53h1v1h-1zM52 54h1v1h-1zM52 55h1v1h-1zM52 56h1v1h-1zM53 57h1v1h-1zM53 58h1v1h-1zM53 59h1v1h-1zM53 60h1v1h-1zM53 61h1v1h-1zM53 62h1v1h-1zM53 63h1v1h-1zM53 64h1v1h-1zM53 65h1v1h-1zM53 66h1v1h-1zM54 67h1v1h-1zM54 68h1v1h-1zM54 69h1v1h-1zM54 70h1v1h-1zM54 71h1v1h-1zM54 72h1v1h-1zM54 73h1v1h-1zM54 74h1v1h-1zM54 75h1v1h-1zM54 76h1v1h-1zM54 77h1v1h-1zM55 78h1v1h-1zM55 79h1v1h-1zM55 80h1v1h-1zM55 81h1v1h-1zM55 82h1v1h-1zM55 83h1v1h-1zM55 84h1v1h-1zM55 85h1v1h-1zM55 86h1v1h-1zM56 87h1v1h-1zM56 88h1v1h-1zM56 89h1v1h-1zM56 90h1v1h-1zM56 91h1v1h-1zM56 92h1v1h-1zM57 93h1v1h-1zM57 94h1v1h-1zM57 95h1v1h-1zM57 96h1v1h-1zM57 97h1v1h-1zM57 98h1v1h-1zM58 99h1v1h-1zM58 100h1v1h-1zM58 101h1v1h-1zM58 102h1v1h-1zM58 103h1v1h-1zM58 104h1v1h-1zM59 105h1v1h-1zM59 106h1v1h-1zM59 107h1v1h-1zM59 108h1v1h-1zM59 109h1v1h-1zM59 110h1v1h-1zM59 111h1v1h-1zM60 112h1v1h-1zM60 113h1v1h-1zM60 114h1v1h-1zM60 115h1v1h-1zM60 116h1v1h-1zM60 117h1v1h-1zM61 118h1v1h-1zM61 119h1v1h-1zM61 120h1v1h-1zM61 121h1v1h-1zM61 122h1v1h-1zM61 123h1v1h-1zM62 124h1v1h-1zM62 125h1v1h-1zM62 126h1v1h-1zM62 127h1v1h-1zM63 128h1v1h-1zM64 129h1v1h-1zM64 130h1v1h-1zM65 131h1v1h-1zM66 132h1v1h-1zM67 133h1v1h-1zM67 134h1v1h-1zM68 135h1v1h-1zM69 136h1v1h-1zM70 137h1v1h-1zM71 138h2v1h-2zM73 139h1v1h-1zM74 140h1v1h-1zM75 141h1v1h-1zM75 142h1v1h-1zM76 143h1v1h-1zM76 144h1v1h-1zM76 145h1v1h-1zM77 146h1v1h-1zM77 147h1v1h-1zM77 148h1v1h-1zM78 149h1v1h-1zM78 150h1v1h-1zM78 151h1v1h-1zM78 152h1v1h-1zM79 153h1v1h-1zM79 154h1v1h-1zM79 155h1v1h-1zM80 156h1v1h-1zM80 157h1v1h-1zM80 158h1v1h-1zM81 159h1v1h-1zM502 159h9v1h-9zM81 160h1v1h-1zM500 160h2v1h-2zM511 160h3v1h-3zM81 161h1v1h-1zM416 161h42v1h-42zM475 161h9v1h-9zM499 161h1v1h-1zM514 161h9v1h-9zM82 162h1v1h-1zM412 162h4v1h-4zM458 162h4v1h-4zM471 162h4v1h-4zM484 162h4v1h-4zM497 162h2v1h-2zM523 162h2v1h-2zM82 163h1v1h-1zM108 163h1v1h-1zM396 163h16v1h-16zM462 163h9v1h-9zM488 163h9v1h-9zM525 163h1v1h-1zM83 164h1v1h-1zM107 164h1v1h-1zM109 164h1v1h-1zM392 164h4v1h-4zM526 164h2v1h-2zM83 165h1v1h-1zM106 165h1v1h-1zM109 165h1v1h-1zM330 165h3v1h-3zM343 165h10v1h-10zM363 165h29v1h-29zM528 165h2v1h-2zM84 166h1v1h-1zM104 166h2v1h-2zM110 166h1v1h-1zM327 166h3v1h-3zM333 166h4v1h-4zM340 166h3v1h-3zM353 166h3v1h-3zM359 166h4v1h-4zM530 166h4v1h-4zM84 167h1v1h-1zM103 167h1v1h-1zM110 167h1v1h-1zM192 167h10v1h-10zM325 167h2v1h-2zM337 167h3v1h-3zM356 167h3v1h-3zM534 167h23v1h-23zM85 168h1v1h-1zM102 168h1v1h-1zM111 168h1v1h-1zM189 168h3v1h-3zM202 168h3v1h-3zM323 168h2v1h-2zM557 168h3v1h-3zM85 169h1v1h-1zM101 169h1v1h-1zM112 169h1v1h-1zM121 169h1v1h-1zM187 169h2v1h-2zM205 169h10v1h-10zM225 169h23v1h-23zM258 169h3v1h-3zM291 169h22v1h-22zM321 169h2v1h-2zM560 169h43v1h-43zM613 169h3v1h-3zM626 169h10v1h-10zM86 170h1v1h-1zM100 170h1v1h-1zM112 170h1v1h-1zM119 170h2v1h-2zM122 170h1v1h-1zM185 170h2v1h-2zM215 170h3v1h-3zM221 170h4v1h-4zM248 170h3v1h-3zM254 170h4v1h-4zM261 170h3v1h-3zM287 170h4v1h-4zM313 170h4v1h-4zM319 170h2v1h-2zM603 170h3v1h-3zM609 170h4v1h-4zM616 170h3v1h-3zM622 170h4v1h-4zM636 170h3v1h-3zM86 171h1v1h-1zM99 171h1v1h-1zM113 171h1v1h-1zM117 171h2v1h-2zM123 171h1v1h-1zM153 171h3v1h-3zM183 171h2v1h-2zM218 171h3v1h-3zM251 171h3v1h-3zM264 171h3v1h-3zM278 171h9v1h-9zM317 171h2v1h-2zM606 171h3v1h-3zM619 171h3v1h-3zM639 171h16v1h-16zM942 171h1v1h-1zM87 172h1v1h-1zM98 172h1v1h-1zM113 172h1v1h-1zM115 172h2v1h-2zM124 172h1v1h-1zM149 172h4v1h-4zM156 172h3v1h-3zM181 172h2v1h-2zM267 172h4v1h-4zM274 172h4v1h-4zM655 172h4v1h-4zM941 172h1v1h-1zM87 173h1v1h-1zM97 173h1v1h-1zM114 173h1v1h-1zM125 173h1v1h-1zM133 173h3v1h-3zM146 173h3v1h-3zM159 173h22v1h-22zM271 173h3v1h-3zM659 173h3v1h-3zM712 173h2v1h-2zM757 173h3v1h-3zM777 173h10v1h-10zM797 173h3v1h-3zM810 173h2v1h-2zM940 173h1v1h-1zM88 174h1v1h-1zM96 174h1v1h-1zM126 174h1v1h-1zM129 174h4v1h-4zM136 174h4v1h-4zM143 174h3v1h-3zM662 174h3v1h-3zM710 174h2v1h-2zM714 174h4v1h-4zM754 174h3v1h-3zM760 174h4v1h-4zM774 174h3v1h-3zM787 174h3v1h-3zM793 174h4v1h-4zM800 174h3v1h-3zM806 174h4v1h-4zM812 174h2v1h-2zM939 174h1v1h-1zM88 175h8v1h-8zM127 175h2v1h-2zM140 175h3v1h-3zM665 175h10v1h-10zM709 175h1v1h-1zM718 175h23v1h-23zM751 175h3v1h-3zM764 175h10v1h-10zM790 175h3v1h-3zM803 175h3v1h-3zM814 175h2v1h-2zM938 175h1v1h-1zM675 176h4v1h-4zM707 176h2v1h-2zM741 176h3v1h-3zM747 176h4v1h-4zM816 176h2v1h-2zM937 176h1v1h-1zM679 177h3v1h-3zM692 177h15v1h-15zM744 177h3v1h-3zM818 177h2v1h-2zM856 177h2v1h-2zM883 177h2v1h-2zM895 177h3v1h-3zM922 177h15v1h-15zM682 178h3v1h-3zM688 178h4v1h-4zM820 178h3v1h-3zM852 178h4v1h-4zM858 178h2v1h-2zM881 178h2v1h-2zM885 178h4v1h-4zM892 178h3v1h-3zM898 178h4v1h-4zM918 178h4v1h-4zM685 179h3v1h-3zM823 179h10v1h-10zM849 179h3v1h-3zM860 179h2v1h-2zM880 179h1v1h-1zM889 179h3v1h-3zM902 179h16v1h-16zM833 180h3v1h-3zM846 180h3v1h-3zM862 180h2v1h-2zM878 180h2v1h-2zM836 181h10v1h-10zM864 181h14v1h-14z" fill="#c00000" shape-rendering="crispEdges"/><path d="M942 9h1v1h-1zM938 10h4v1h-4zM928 11h10v1h-10zM925 12h3v1h-3zM909 13h16v1h-16zM905 14h4v1h-4zM889 15h16v1h-16zM885 16h4v1h-4zM876 17h9v1h-9zM872 18h4v1h-4zM863 19h9v1h-9zM859 20h4v1h-4zM856 21h3v1h-3zM852 22h4v1h-4zM849 23h3v1h-3zM846 24h3v1h-3zM837 25h9v1h-9zM835 26h2v1h-2zM834 27h1v1h-1zM832 28h2v1h-2zM830 29h2v1h-2zM826 30h4v1h-4zM823 31h3v1h-3zM820 32h3v1h-3zM810 33h10v1h-10zM806 34h4v1h-4zM803 35h3v1h-3zM800 36h3v1h-3zM797 37h3v1h-3zM793 38h4v1h-4zM790 39h3v1h-3zM787 40h3v1h-3zM784 41h3v1h-3zM780 42h4v1h-4zM777 43h3v1h-3zM774 44h3v1h-3zM757 45h17v1h-17zM754 46h3v1h-3zM751 47h3v1h-3zM747 48h4v1h-4zM744 49h3v1h-3zM741 50h3v1h-3zM738 51h3v1h-3zM734 52h4v1h-4zM725 53h9v1h-9zM721 54h4v1h-4zM718 55h3v1h-3zM714 56h4v1h-4zM711 57h3v1h-3zM708 58h3v1h-3zM705 59h3v1h-3zM701 60h4v1h-4zM686 61h15v1h-15zM684 62h2v1h-2zM683 63h1v1h-1zM681 64h2v1h-2zM672 65h9v1h-9zM668 66h4v1h-4zM665 67h3v1h-3zM662 68h3v1h-3zM659 69h3v1h-3zM655 70h4v1h-4zM652 71h3v1h-3zM649 72h3v1h-3zM639 73h10v1h-10zM636 74h3v1h-3zM633 75h3v1h-3zM629 76h4v1h-4zM626 77h3v1h-3zM622 78h4v1h-4zM613 79h9v1h-9zM609 80h4v1h-4zM606 81h3v1h-3zM603 82h3v1h-3zM600 83h3v1h-3zM596 84h4v1h-4zM593 85h3v1h-3zM590 86h3v1h-3zM580 87h10v1h-10zM576 88h4v1h-4zM573 89h3v1h-3zM570 90h3v1h-3zM554 91h16v1h-16zM550 92h4v1h-4zM547 93h3v1h-3zM544 94h3v1h-3zM541 95h3v1h-3zM537 96h4v1h-4zM534 97h3v1h-3zM532 98h2v1h-2zM530 99h2v1h-2zM528 100h2v1h-2zM527 101h1v1h-1zM526 102h1v1h-1zM524 103h2v1h-2zM523 104h1v1h-1zM522 105h1v1h-1zM520 106h2v1h-2zM518 107h2v1h-2zM516 108h2v1h-2zM514 109h2v1h-2zM511 110h3v1h-3zM508 111h3v1h-3zM504 112h4v1h-4zM502 113h2v1h-2zM500 114h2v1h-2zM499 115h1v1h-1zM497 116h2v1h-2zM495 117h2v1h-2zM491 118h4v1h-4zM489 119h2v1h-2zM487 120h2v1h-2zM485 121h2v1h-2zM483 122h2v1h-2zM475 123h8v1h-8zM471 124h4v1h-4zM455 125h16v1h-16zM451 126h4v1h-4zM435 127h16v1h-16zM432 128h3v1h-3zM416 129h16v1h-16zM412 130h4v1h-4zM402 131h10v1h-10zM399 132h3v1h-3zM376 133h23v1h-23zM373 134h3v1h-3zM363 135h10v1h-10zM359 136h4v1h-4zM356 137h3v1h-3zM353 138h3v1h-3zM350 139h3v1h-3zM346 140h4v1h-4zM344 141h2v1h-2zM342 142h2v1h-2zM341 143h1v1h-1zM339 144h2v1h-2zM337 145h2v1h-2zM333 146h4v1h-4zM331 147h2v1h-2zM329 148h2v1h-2zM328 149h1v1h-1zM326 150h2v1h-2zM324 151h2v1h-2zM320 152h4v1h-4zM317 153h3v1h-3zM315 154h2v1h-2zM313 155h2v1h-2zM311 156h2v1h-2zM309 157h2v1h-2zM308 158h1v1h-1zM306 159h2v1h-2zM305 160h1v1h-1zM303 161h2v1h-2zM302 162h1v1h-1zM301 163h1v1h-1zM299 164h2v1h-2zM297 165h2v1h-2zM294 166h3v1h-3zM291 167h3v1h-3zM287 168h4v1h-4zM284 169h3v1h-3zM281 170h3v1h-3zM278 171h3v1h-3zM274 172h4v1h-4zM264 173h10v1h-10zM261 174h3v1h-3zM258 175h3v1h-3zM254 176h4v1h-4zM238 177h16v1h-16zM235 178h3v1h-3zM225 179h10v1h-10zM221 180h4v1h-4zM218 181h3v1h-3zM215 182h3v1h-3zM212 183h3v1h-3zM208 184h4v1h-4zM205 185h3v1h-3zM202 186h3v1h-3zM199 187h3v1h-3zM195 188h4v1h-4zM193 189h2v1h-2zM191 190h2v1h-2zM190 191h1v1h-1zM188 192h2v1h-2zM186 193h2v1h-2zM182 194h4v1h-4zM179 195h3v1h-3zM175 196h4v1h-4zM173 197h2v1h-2zM171 198h2v1h-2zM169 199h2v1h-2zM167 200h2v1h-2zM165 201h2v1h-2zM163 202h2v1h-2zM161 203h2v1h-2zM146 204h15v1h-15zM143 205h3v1h-3zM127 206h16v1h-16zM126 207h1v1h-1zM126 208h1v1h-1zM125 209h1v1h-1zM125 210h1v1h-1zM124 211h1v1h-1zM124 212h1v1h-1zM123 213h1v1h-1zM123 214h1v1h-1zM122 215h1v1h-1zM122 216h1v1h-1zM121 217h1v1h-1zM121 218h1v1h-1zM120 219h1v1h-1zM120 220h1v1h-1zM119 221h1v1h-1zM119 222h1v1h-1zM118 223h1v1h-1zM118 224h1v1h-1zM117 225h1v1h-1zM117 226h1v1h-1zM116 227h1v1h-1zM116 228h1v1h-1zM115 229h1v1h-1zM115 230h1v1h-1zM114 231h1v1h-1zM114 232h1v1h-1zM113 233h1v1h-1zM113 234h1v1h-1zM113 235h1v1h-1zM112 236h1v1h-1zM112 237h1v1h-1zM112 238h1v1h-1zM111 239h1v1h-1zM111 240h1v1h-1zM110 241h1v1h-1zM110 242h1v1h-1zM110 243h1v1h-1zM109 244h1v1h-1zM109 245h1v1h-1zM109 246h1v1h-1zM108 247h1v1h-1zM108 248h1v1h-1zM108 249h1v1h-1zM107 250h1v1h-1zM107 251h1v1h-1zM106 252h1v1h-1zM106 253h1v1h-1zM105 254h1v1h-1zM105 255h1v1h-1zM104 256h1v1h-1zM104 257h1v1h-1zM103 258h1v1h-1zM103 259h1v1h-1zM102 260h1v1h-1zM102 261h1v1h-1zM101 262h1v1h-1zM101 263h1v1h-1zM101 264h1v1h-1zM100 265h1v1h-1zM100 266h1v1h-1zM99 267h1v1h-1zM99 268h1v1h-1zM98 269h1v1h-1zM98 270h1v1h-1zM98 271h1v1h-1zM97 272h1v1h-1zM97 273h1v1h-1zM96 274h1v1h-1zM96 275h1v1h-1zM95 276h1v1h-1zM95 277h1v1h-1zM95 278h1v1h-1zM94 279h1v1h-1zM94 280h1v1h-1zM93 281h1v1h-1zM93 282h1v1h-1zM93 283h1v1h-1zM92 284h1v1h-1zM92 285h1v1h-1zM92 286h1v1h-1zM91 287h1v1h-1zM91 288h1v1h-1zM90 289h1v1h-1zM90 290h1v1h-1zM90 291h1v1h-1zM89 292h1v1h-1zM89 293h1v1h-1zM88 294h1v1h-1zM88 295h1v1h-1zM87 296h1v1h-1zM87 297h1v1h-1zM86 298h1v1h-1zM86 299h1v1h-1zM85 300h1v1h-1zM85 301h1v1h-1zM84 302h1v1h-1zM83 303h1v1h-1zM83 304h1v1h-1zM82 305h1v1h-1zM82 306h1v1h-1zM81 307h1v1h-1zM81 308h1v1h-1zM80 309h1v1h-1zM80 310h1v1h-1zM79 311h1v1h-1zM79 312h1v1h-1zM78 313h1v1h-1zM78 314h1v1h-1zM78 315h1v1h-1zM77 316h1v1h-1zM77 317h1v1h-1zM76 318h1v1h-1zM76 319h1v1h-1zM75 320h1v1h-1zM75 321h1v1h-1zM75 322h1v1h-1zM74 323h1v1h-1zM74 324h1v1h-1zM73 325h1v1h-1zM73 326h1v1h-1zM72 327h1v1h-1zM72 328h1v1h-1zM71 329h1v1h-1zM71 330h1v1h-1zM70 331h1v1h-1zM70 332h1v1h-1zM69 333h1v1h-1zM69 334h1v1h-1zM68 335h1v1h-1zM68 336h1v1h-1zM67 337h1v1h-1zM67 338h1v1h-1zM67 339h1v1h-1zM66 340h1v1h-1zM66 341h1v1h-1zM66 342h1v1h-1zM65 343h1v1h-1zM65 344h1v1h-1zM64 345h1v1h-1zM64 346h1v1h-1zM64 347h1v1h-1zM63 348h1v1h-1zM63 349h1v1h-1zM63 350h1v1h-1zM62 351h1v1h-1zM62 352h1v1h-1zM62 353h1v1h-1zM61 354h1v1h-1zM61 355h1v1h-1zM60 356h1v1h-1zM60 357h1v1h-1zM59 358h1v1h-1zM59 359h1v1h-1zM58 360h1v1h-1zM58 361h1v1h-1zM57 362h1v1h-1zM57 363h1v1h-1zM56 364h1v1h-1zM56 365h1v1h-1zM55 366h1v1h-1zM55 367h1v1h-1zM55 368h1v1h-1zM54 369h1v1h-1zM54 370h1v1h-1zM54 371h1v1h-1zM53 372h1v1h-1zM53 373h1v1h-1zM53 374h1v1h-1zM52 375h1v1h-1zM52 376h1v1h-1zM51 377h1v1h-1zM51 378h1v1h-1zM51 379h1v1h-1zM50 380h1v1h-1zM50 381h1v1h-1zM50 382h1v1h-1zM49 383h1v1h-1zM49 384h1v1h-1z" fill="#0000c0" shape-rendering="crispEdges"/></svg></body></html>
